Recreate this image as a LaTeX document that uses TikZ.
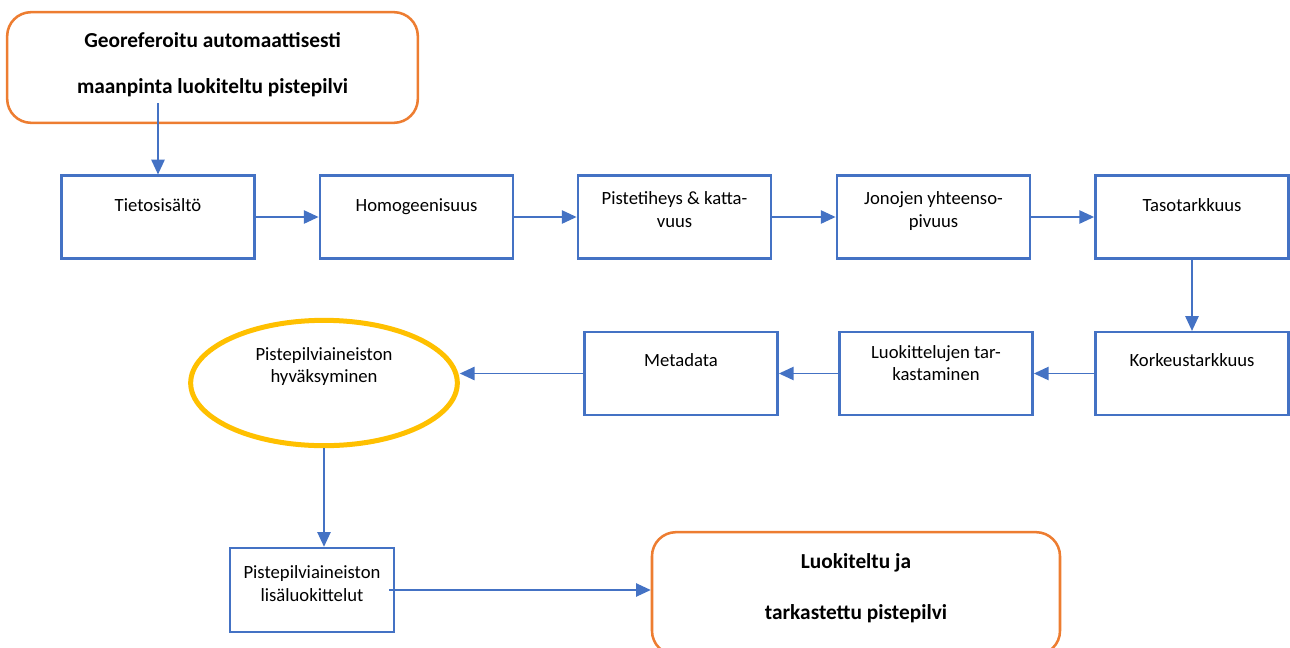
\documentclass[tikz,border=0pt]{standalone}
\usepackage{fontspec}
\setmainfont{Carlito}
\usetikzlibrary{arrows.meta,shapes.geometric}
\definecolor{stepblue}{HTML}{4472C4}
\definecolor{endorange}{HTML}{ED7D31}
\definecolor{okgold}{HTML}{FFC000}
\tikzstyle{stepbox}=[rectangle,draw=stepblue,line width=1.9pt,minimum width=145pt,minimum height=62pt,inner sep=0pt,font=\fontsize{14}{17}\selectfont]
\tikzstyle{endbox}=[rectangle,rounded corners=18pt,draw=endorange,line width=1.9pt,inner sep=0pt,font=\bfseries\fontsize{16}{19.2}\selectfont]
\tikzstyle{okellipse}=[ellipse,draw=okgold,line width=3.75pt,minimum width=200pt,minimum height=94pt,inner sep=0pt,font=\fontsize{14}{17}\selectfont]
\tikzstyle{edge}=[draw,stepblue,line width=1pt,-{Triangle[length=11pt,width=10pt]}]
\newcommand{\lifted}[2]{\begin{tabular}{@{}c@{}}#2\\[#1]\end{tabular}}

\begin{document}
\begin{tikzpicture}[x=0.75pt,y=-0.75pt]
        \useasboundingbox (0,0) rectangle (1290,647);
        % start and end
        \node[endbox,minimum width=308pt,minimum height=83pt] (georef) at (212.5,67.5) {\lifted{3pt}{Georeferoitu automaattisesti\\[15pt]maanpinta luokiteltu pistepilvi}};
        \node[endbox,minimum width=306pt,minimum height=92pt] (valmis) at (856,593.5) {\lifted{7.5pt}{Luokiteltu ja\\[19pt]tarkastettu pistepilvi}};
        % first row
        \node[stepbox] (tieto) at (158,217) {\lifted{15pt}{Tietosisältö}};
        \node[stepbox] (homog) at (416.5,217) {\lifted{15pt}{Homogeenisuus}};
        \node[stepbox] (tiheys) at (674.5,217) {\lifted{8pt}{Pistetiheys \& katta-\\vuus}};
        \node[stepbox] (jonot) at (933.5,217) {\lifted{8pt}{Jonojen yhteenso-\\pivuus}};
        \node[stepbox] (taso) at (1192,217) {\lifted{15pt}{Tasotarkkuus}};
        % second row
        \node[stepbox] (korkeus) at (1192,373.5) {\lifted{17pt}{Korkeustarkkuus}};
        \node[stepbox] (luokat) at (936,373.5) {\lifted{13pt}{Luokittelujen tar-\\kastaminen}};
        \node[stepbox] (meta) at (681,373.5) {\lifted{17pt}{Metadata}};
        \node[okellipse] (hyvaksy) at (324,383) {\lifted{24pt}{Pistepilviaineiston\\hyväksyminen}};
        \node[stepbox,minimum width=123pt,minimum height=63pt] (lisa) at (312,590) {\lifted{7pt}{Pistepilviaineiston\\lisäluokittelut}};
        \coordinate (gstart) at (158,103);
        \path[edge] (gstart) -- (tieto);
        \path[edge] (tieto) -- (homog);
        \path[edge] (homog) -- (tiheys);
        \path[edge] (tiheys) -- (jonot);
        \path[edge] (jonot) -- (taso);
        \path[edge] (taso) -- (korkeus);
        \path[edge] (korkeus) -- (luokat);
        \path[edge] (luokat) -- (meta);
        \path[edge] (meta.west) -- (meta.west -| hyvaksy.east);
        \path[edge] (hyvaksy.south) -- (hyvaksy.south |- lisa.north);
        \path[edge] ([xshift=-4.5pt]lisa.east) -- (lisa.east -| valmis.west);
    \end{tikzpicture}
\end{document}
